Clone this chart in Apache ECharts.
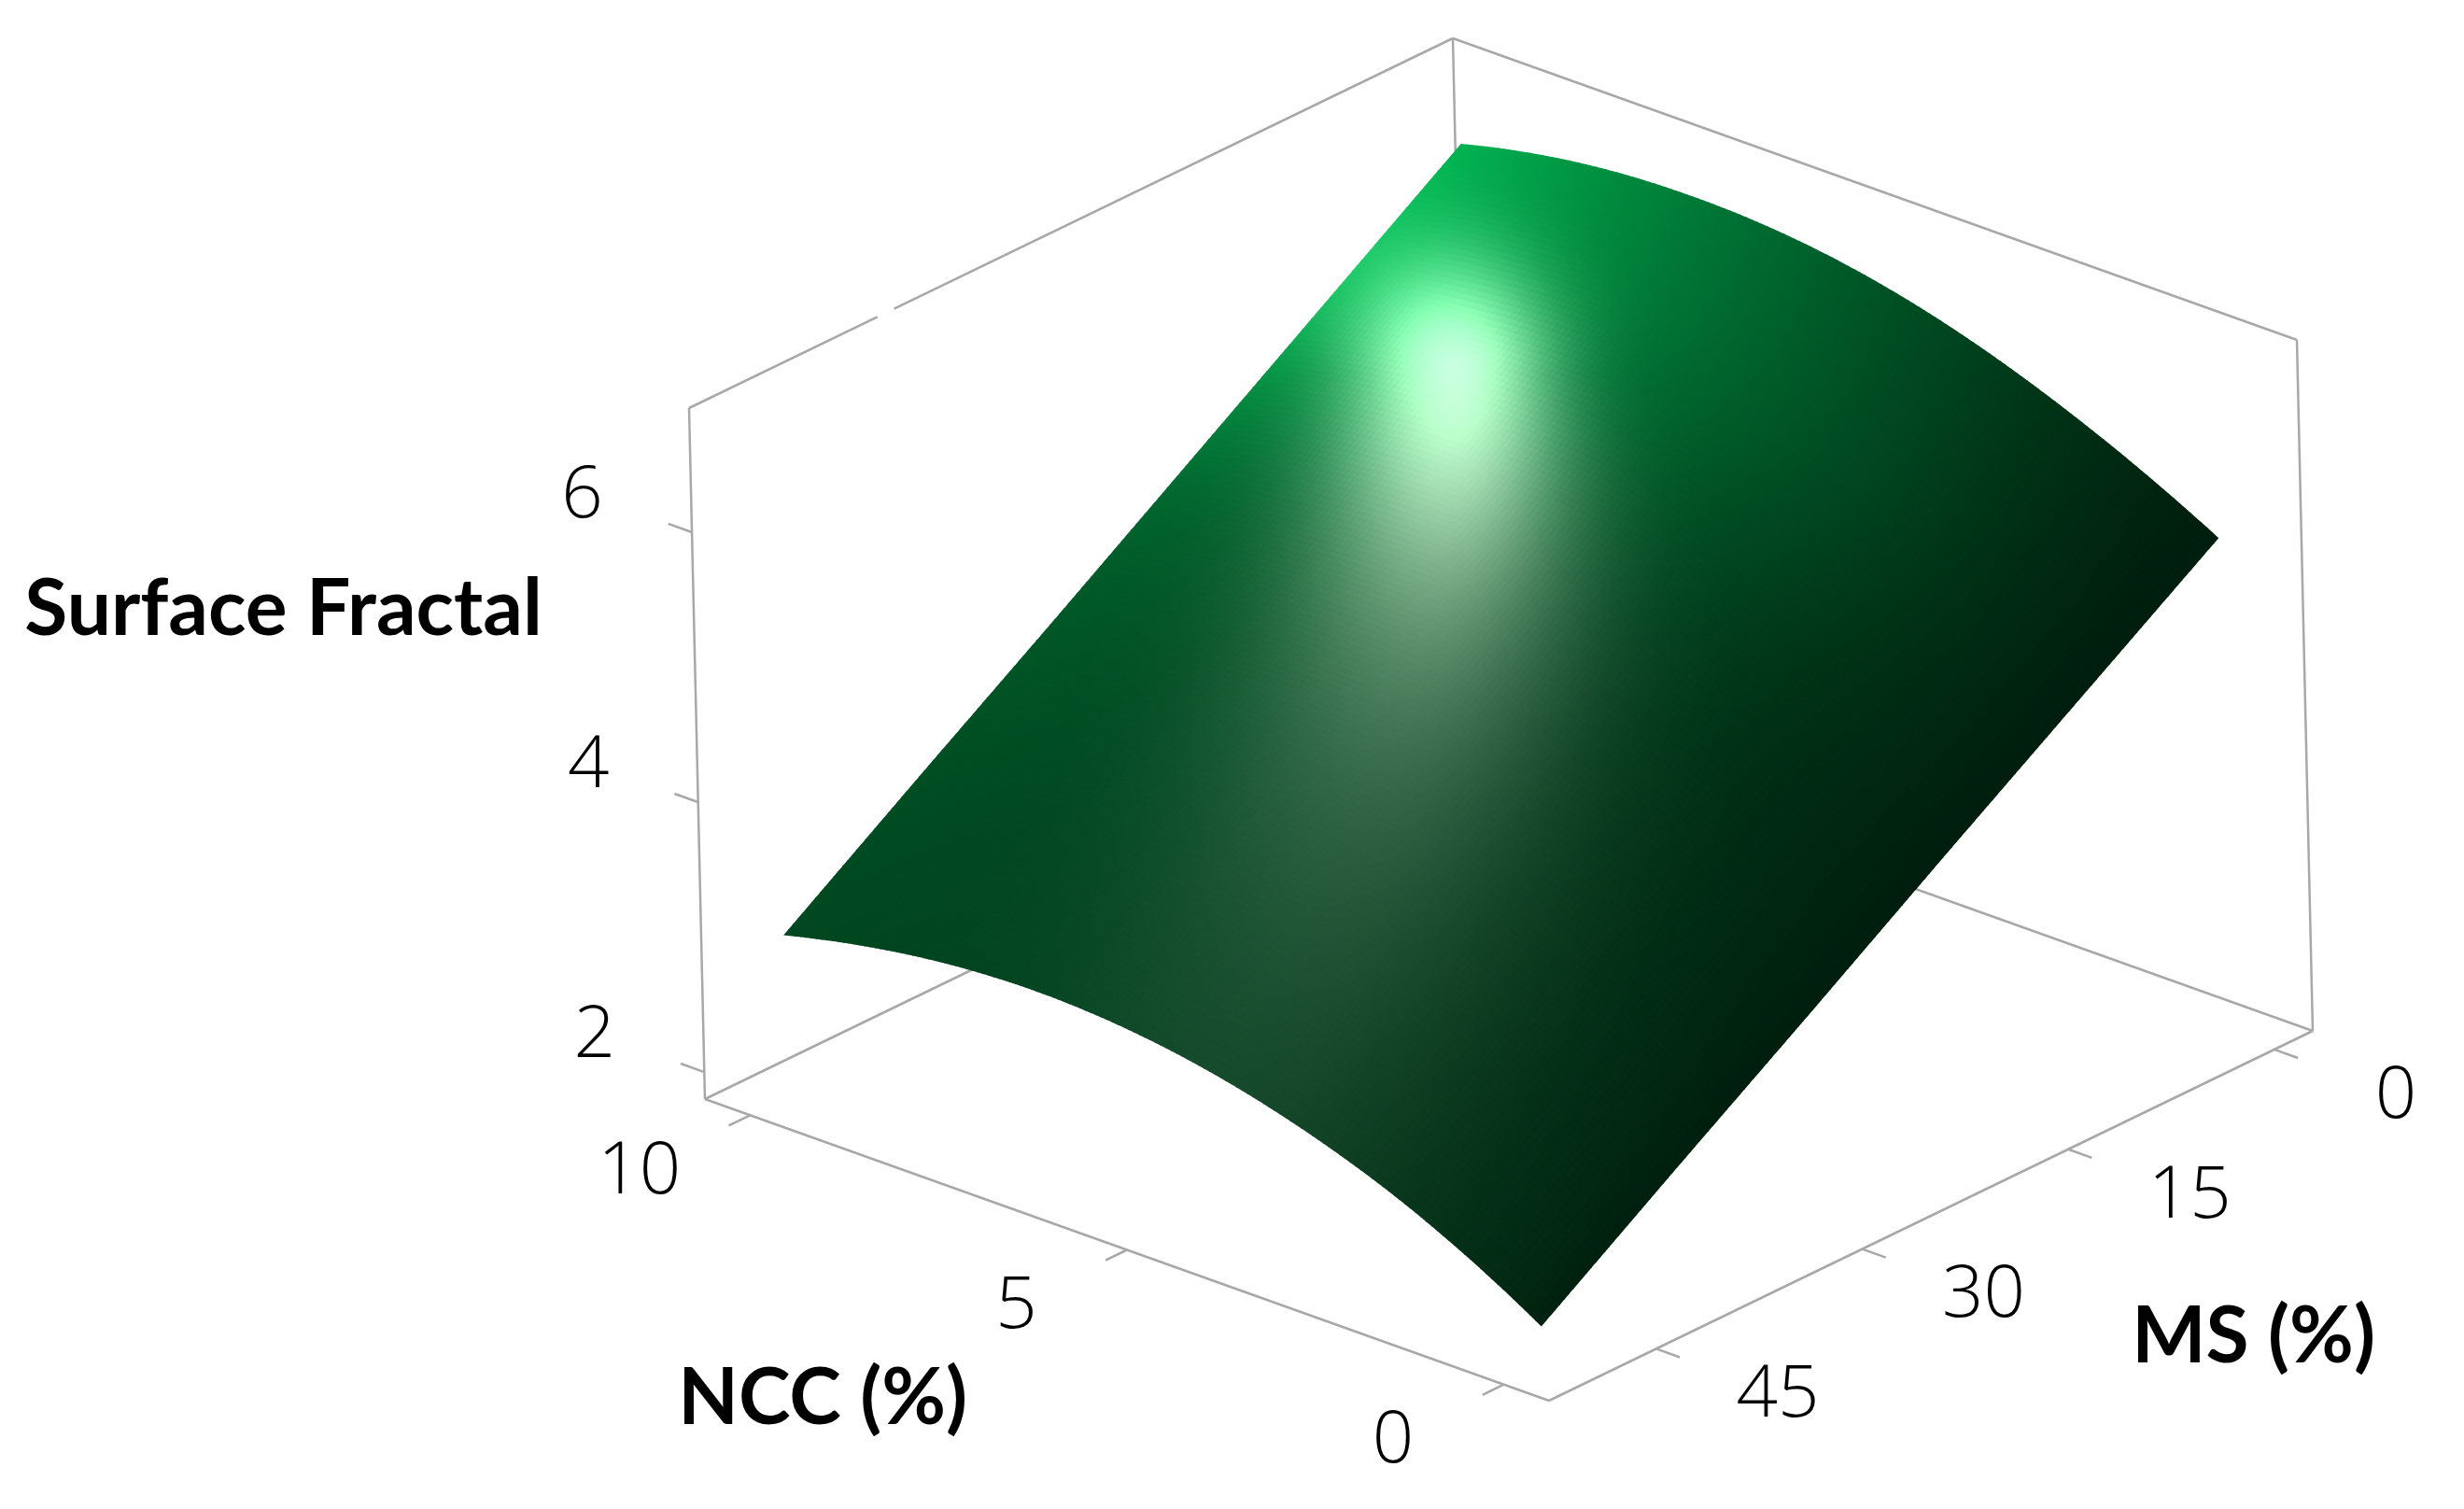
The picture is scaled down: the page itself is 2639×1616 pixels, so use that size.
<!DOCTYPE html>
<html>
<head>
<meta charset="utf-8">
<title>Surface Fractal</title>
<script src="https://cdn.jsdelivr.net/npm/echarts@6/dist/echarts.min.js"></script>
<style>
  html, body { margin: 0; background: #fff; }
  #chart { width: 2639px; height: 1616px; }
</style>
</head>
<body>
<div id="chart"></div>
<script>
// values
const nccValues = [0, 1, 2, 3, 4, 5, 6, 7, 8, 9, 10];
const msValues = [0, 10, 20, 30, 40, 50];
const fractalMs0 = [5.47, 5.765, 6.02, 6.235, 6.405, 6.525, 6.595, 6.615, 6.59, 6.515, 6.39];
const fractalMs10 = [4.80, 5.10, 5.355, 5.57, 5.74, 5.855, 5.925, 5.94, 5.91, 5.84, 5.71];
const fractalMs20 = [4.13, 4.43, 4.69, 4.90, 5.07, 5.19, 5.255, 5.27, 5.235, 5.16, 5.03];
const fractalMs30 = [3.45, 3.765, 4.03, 4.24, 4.405, 4.52, 4.585, 4.595, 4.56, 4.48, 4.35];
const fractalMs40 = [2.78, 3.10, 3.365, 3.575, 3.74, 3.85, 3.915, 3.925, 3.885, 3.80, 3.68];
const fractalMs50 = [2.10, 2.43, 2.70, 2.91, 3.07, 3.18, 3.24, 3.25, 3.21, 3.125, 3.00];
const nccTicks = [0, 5, 10];
const msTicks = [0, 15, 30, 45];
const fractalTicks = [2, 4, 6];

const fractalRows = [fractalMs0, fractalMs10, fractalMs20, fractalMs30, fractalMs40, fractalMs50];

// box ranges
const nccRange = [-0.6, 10.6];
const msRange = [52.8, -2.8];
const fractalRange = [1.8, 6.92];

// the plot is an orthographic view of the box: one corner and three edge vectors
const boxOrigin = [1659, 1500];
const nccEdge = [-904, -323];
const msEdge = [818, -396];
const fractalEdge = [-17, -740];

function boxPoint(a, b, c) {
  return [
    boxOrigin[0] + a * nccEdge[0] + b * msEdge[0] + c * fractalEdge[0],
    boxOrigin[1] + a * nccEdge[1] + b * msEdge[1] + c * fractalEdge[1]
  ];
}

function fraction(v, range) {
  return (v - range[0]) / (range[1] - range[0]);
}

function project(ncc, ms, z) {
  return boxPoint(fraction(ncc, nccRange), fraction(ms, msRange), fraction(z, fractalRange));
}

// frame of the box, [a, b, c] ends
const frameSegments = [
  [[1, 0, 0], [1, 0, 1]],
  [[0, 1, 0], [0, 1, 1]],
  [[1, 1, 0], [1, 1, 1]],
  [[1, 0, 1], [1, 0.2466, 1]],
  [[1, 0.2686, 1], [1, 1, 1]],
  [[0, 1, 1], [1, 1, 1]],
  [[1, 0, 0], [0, 0, 0]],
  [[0, 0, 0], [0, 1, 0]],
  [[1, 0, 0], [1, 1, 0]],
  [[0, 1, 0], [1, 1, 0]]
];

const tickSize = 0.028;
const texts = [];
nccTicks.forEach(v => {
  const a = fraction(v, nccRange);
  frameSegments.push([[a, 0, 0], [a, -tickSize, 0]]);
  texts.push({ text: String(v), at: [a, -0.145, 0], kind: 'tick' });
});
msTicks.forEach(v => {
  const b = fraction(v, msRange);
  frameSegments.push([[0, b, 0], [-tickSize, b, 0]]);
  texts.push({ text: String(v), at: [-0.144, b, 0], kind: 'tick' });
});
fractalTicks.forEach(v => {
  const c = fraction(v, fractalRange);
  frameSegments.push([[1, 0, c], [1 + tickSize, 0, c]]);
  texts.push({ text: String(v), at: [1.13, 0, c], kind: 'tick' });
});
texts.push({ text: 'NCC (%)', at: [0.503, -0.395, 0], kind: 'title' });
texts.push({ text: 'MS (%)', at: [-0.385, 0.497, 0], kind: 'title' });
texts.push({ text: 'Surface Fractal', at: [1.49, 0, 0.5], kind: 'title' });

// surface colour: a green that gets darker towards NCC 0 and high MS, plus the light spot
function surfaceColor(ncc, ms, x, y) {
  const reach = 30 + 90 * Math.exp(-ms / 25) + 50 * Math.exp(-Math.pow((ms - 8) / 10, 2));
  const g = 30 + Math.pow(Math.max(ncc, 0) / 10, 1.25 - 0.015 * ms) * reach;
  const base = [0, g, 0.45 * g];

  const cx = 1557 - 0.00035 * (y - 400) * (y - 400);
  const along = y < 400
    ? Math.exp(-Math.pow((400 - y) / 115, 2))
    : 1 / (1 + Math.pow((y - 400) / 270, 2));
  const w = 100 + 0.2 * Math.max(y - 400, 0);
  const dx = x - cx;
  const side = dx < 0 ? w * 1.1 : w;
  const s = 0.85 * along * Math.exp(-Math.pow(dx / side, 2));

  const spot = [235, 185, 195];
  const c = base.map((v, k) => Math.min(255, Math.round(v + s * spot[k])));
  return 'rgb(' + c[0] + ',' + c[1] + ',' + c[2] + ')';
}

// smooth reading along NCC between the table's columns, for drawing the cell only
function rowValue(row, i, u) {
  const p1 = row[i];
  const p2 = row[i + 1];
  const p0 = i > 0 ? row[i - 1] : 3 * p1 - 3 * p2 + row[i + 2];
  const p3 = i + 2 < row.length ? row[i + 2] : 3 * p2 - 3 * p1 + row[i - 1];
  return p1 + 0.5 * u * (p2 - p0 + u * (2 * p0 - 5 * p1 + 4 * p2 - p3 + u * (3 * (p1 - p2) + p3 - p0)));
}

const nccSteps = 14;
const msSteps = 30;

function renderCell(params, api) {
  const i = api.value(0);
  const j = api.value(1);

  const at = (u, v) => {
    const ncc = nccValues[i] + u * (nccValues[i + 1] - nccValues[i]);
    const ms = msValues[j] + v * (msValues[j + 1] - msValues[j]);
    const z = (1 - v) * rowValue(fractalRows[j], i, u) + v * rowValue(fractalRows[j + 1], i, u);
    return project(ncc, ms, z);
  };

  const children = [];
  for (let a = 0; a < nccSteps; a++) {
    for (let b = 0; b < msSteps; b++) {
      const u0 = a / nccSteps, u1 = (a + 1) / nccSteps;
      const v0 = b / msSteps, v1 = (b + 1) / msSteps;
      const mid = at((u0 + u1) / 2, (v0 + v1) / 2);
      const ncc = nccValues[i] + (u0 + u1) / 2 * (nccValues[i + 1] - nccValues[i]);
      const ms = msValues[j] + (v0 + v1) / 2 * (msValues[j + 1] - msValues[j]);
      const color = surfaceColor(ncc, ms, mid[0], mid[1]);
      children.push({
        type: 'polygon',
        shape: { points: [at(u0, v0), at(u1, v0), at(u1, v1), at(u0, v1)].map(p => api.coord(p)) },
        style: { fill: color, stroke: color, lineWidth: 1.5 },
        silent: true
      });
    }
  }
  return { type: 'group', children: children };
}

function renderSegment(params, api) {
  const seg = frameSegments[api.value(0)];
  const a = api.coord(boxPoint(seg[0][0], seg[0][1], seg[0][2]));
  const b = api.coord(boxPoint(seg[1][0], seg[1][1], seg[1][2]));
  return {
    type: 'line',
    shape: { x1: a[0], y1: a[1], x2: b[0], y2: b[1] },
    style: { stroke: '#a8a8a8', lineWidth: 2.5, fill: null }
  };
}

function renderText(params, api) {
  const item = texts[api.value(0)];
  const p = api.coord(boxPoint(item.at[0], item.at[1], item.at[2]));
  const isTitle = item.kind === 'title';
  return {
    type: 'text',
    x: p[0],
    y: p[1] + 4,
    style: {
      text: item.text,
      fill: '#000',
      align: 'center',
      verticalAlign: 'middle',
      fontFamily: isTitle ? 'Lato' : 'Open Sans',
      fontWeight: isTitle ? 700 : 300,
      fontSize: isTitle ? 84 : 78
    }
  };
}

const cells = [];
for (let j = 0; j < msValues.length - 1; j++) {
  for (let i = 0; i < nccValues.length - 1; i++) {
    cells.push([i, j]);
  }
}

const chart = echarts.init(document.getElementById('chart'), null, { renderer: 'canvas' });
chart.setOption({
  backgroundColor: '#fff',
  animation: false,
  grid: { left: 0, right: 0, top: 0, bottom: 0 },
  xAxis: { type: 'value', min: 0, max: 2639, show: false },
  yAxis: { type: 'value', min: 0, max: 1616, inverse: true, show: false },
  tooltip: { show: false },
  series: [
    {
      type: 'custom',
      name: 'frame',
      coordinateSystem: 'cartesian2d',
      renderItem: renderSegment,
      data: frameSegments.map((s, i) => [i]),
      encode: { x: [], y: [] },
      silent: true,
      clip: false,
      z: 1
    },
    {
      type: 'custom',
      name: 'Surface Fractal',
      coordinateSystem: 'cartesian2d',
      renderItem: renderCell,
      data: cells,
      encode: { x: [], y: [] },
      silent: true,
      clip: false,
      progressive: 0,
      z: 2
    },
    {
      type: 'custom',
      name: 'labels',
      coordinateSystem: 'cartesian2d',
      renderItem: renderText,
      data: texts.map((t, i) => [i]),
      encode: { x: [], y: [] },
      silent: true,
      clip: false,
      z: 3
    }
  ]
});
</script>
</body>
</html>
